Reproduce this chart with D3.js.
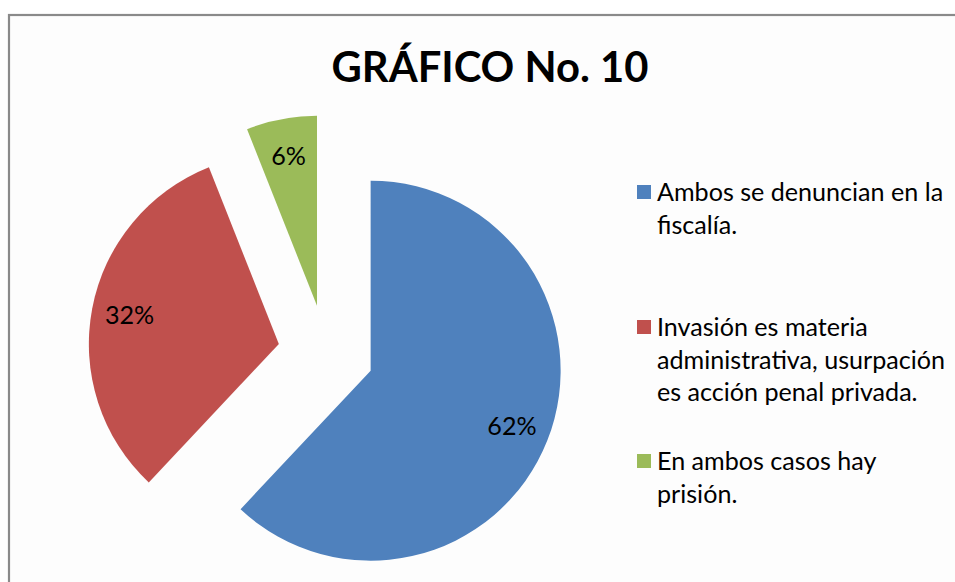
<!DOCTYPE html>
<html><head><meta charset="utf-8">
<script src="https://cdn.jsdelivr.net/npm/d3@7"></script>
<style>html,body{margin:0;padding:0;background:#fff;}svg{display:block;}</style>
</head><body>
<script>
const title = "GRÁFICO No. 10";
const categories = [
  ["Ambos se denuncian en la", "fiscalía."],
  ["Invasión es materia", "administrativa, usurpación", "es acción penal privada."],
  ["En ambos casos hay", "prisión."]
];
const values = [62, 32, 6];
const labels = ["62%", "32%", "6%"];
const colors = ["#4F81BD", "#C0504D", "#9BBB59"];

const W = 955, H = 582;
const svg = d3.select("body").append("svg").attr("width", W).attr("height", H);
const FONT = "Lato, 'Open Sans', sans-serif";

// chart area
svg.append("rect").attr("x", 9).attr("y", 15).attr("width", W).attr("height", H)
  .attr("fill", "#fdfdfd").attr("stroke", "#8a8a8a").attr("stroke-width", 2.2);

// title
const t = svg.append("text").attr("x", 490).attr("y", 82).attr("text-anchor", "middle")
  .attr("font-family", FONT).attr("font-weight", "bold").attr("font-size", 44)
  .attr("fill", "#000").text(title);
const tw = t.node().getComputedTextLength();
t.attr("font-size", 44 * 317 / tw);

// pie
const cx = 326, cy = 353, R = 190, explode = 48;
const pie = d3.pie().sort(null).value(d => d)(values);
const arc = d3.arc().innerRadius(0).outerRadius(R);
const labArc = d3.arc().innerRadius(152).outerRadius(152);

// measure font size for legend
const probe = svg.append("text").attr("font-family", FONT).attr("font-size", 24).text("administrativa, usurpación");
const pw = probe.node().getComputedTextLength();
probe.remove();
const fs = 24 * 288 / pw;

const g = svg.append("g").attr("transform", `translate(${cx},${cy})`);
pie.forEach((p, i) => {
  const mid = (p.startAngle + p.endAngle) / 2;
  const dx = Math.sin(mid) * explode, dy = -Math.cos(mid) * explode;
  const sg = g.append("g").attr("transform", `translate(${dx},${dy})`);
  sg.append("path").attr("d", arc(p)).attr("fill", colors[i]);
  const c = labArc.centroid(p);
  sg.append("text").attr("x", c[0]).attr("y", c[1]).attr("dy", "0.35em")
    .attr("text-anchor", "middle").attr("font-family", FONT).attr("font-size", fs)
    .attr("fill", "#000").text(labels[i]);
});

// legend
const legendTop = [185, 320, 454];
categories.forEach((lines, i) => {
  svg.append("rect").attr("x", 637).attr("y", legendTop[i]).attr("width", 14).attr("height", 14)
    .attr("fill", colors[i]);
  lines.forEach((ln, j) => {
    svg.append("text").attr("x", 657).attr("y", legendTop[i] + 16 + j * 32.5)
      .attr("font-family", FONT).attr("font-size", fs).attr("fill", "#000").text(ln);
  });
});
</script>
</body></html>
